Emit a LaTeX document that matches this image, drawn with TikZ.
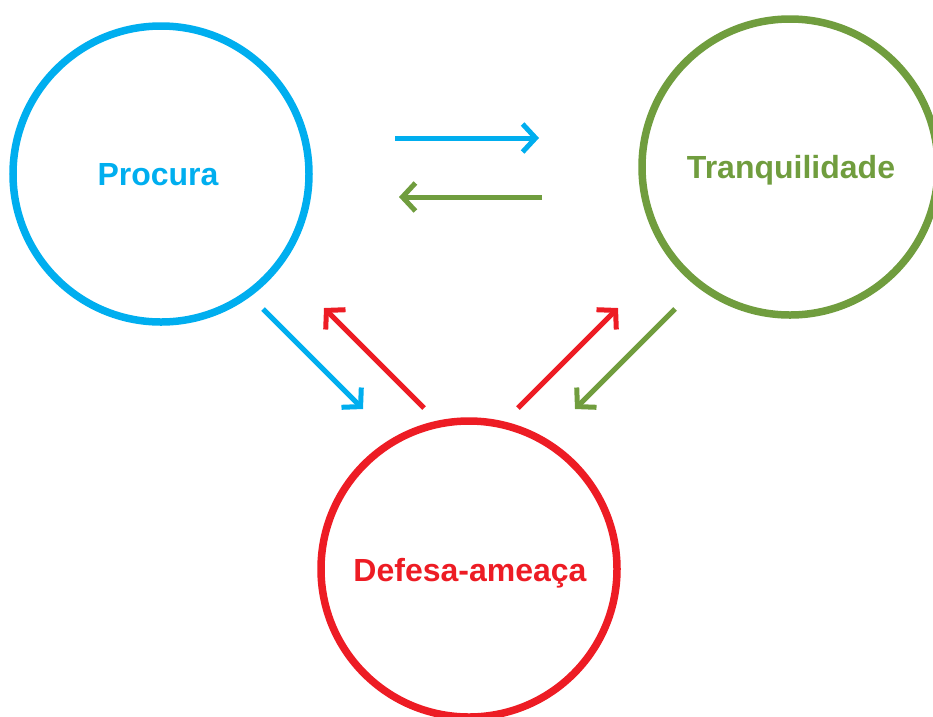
\documentclass[tikz,border=0pt]{standalone}
\usepackage{fontspec}
\setmainfont{Liberation Sans}
\usetikzlibrary{arrows.meta}
\definecolor{cblue}{HTML}{00AEEF}
\definecolor{cgreen}{HTML}{709D3E}
\definecolor{cred}{HTML}{ED1C24}
\begin{document}
\begin{tikzpicture}[x=1pt,y=-1pt,
  ring/.style={circle, draw, line width=7.5pt, minimum size=296pt, inner sep=0pt,
    text depth=0pt},
  lab/.style={font=\fontsize{32}{36}\selectfont\bfseries, text depth=0pt, inner sep=0pt},
  conn/.style={line width=5pt, line cap=butt,
    -{Straight Barb[length=13pt,width=28pt,line join=miter,line cap=butt]}}]
\useasboundingbox (0,0) rectangle (933,716);
\node[ring, draw=cblue] (p) at (161,174) {};
\node[ring, draw=cgreen] (t) at (790,167) {};
\node[ring, draw=cred] (d) at (469,569) {};
\node[lab, text=cblue] (pl) at (158,174) {Procura};
\node[lab, text=cgreen] (tl) at (791,167) {Tranquilidade};
\node[lab, text=cred] (dl) at (470,570) {Defesa-ameaça};
\coordinate (h1s) at (395,138); \coordinate (h1e) at (539,138);
\coordinate (h2s) at (542,197); \coordinate (h2e) at (399,197);
\coordinate (b1s) at (263,309); \coordinate (b1e) at (363,409);
\coordinate (r1s) at (424,408); \coordinate (r1e) at (324,308);
\coordinate (r2s) at (518,408); \coordinate (r2e) at (618,308);
\coordinate (g1s) at (675,309); \coordinate (g1e) at (575,409);
\draw[conn, cblue] (h1s) -- (h1e);
\draw[conn, cgreen] (h2s) -- (h2e);
\draw[conn, cblue] (b1s) -- (b1e);
\draw[conn, cred] (r1s) -- (r1e);
\draw[conn, cred] (r2s) -- (r2e);
\draw[conn, cgreen] (g1s) -- (g1e);
\end{tikzpicture}
\end{document}
